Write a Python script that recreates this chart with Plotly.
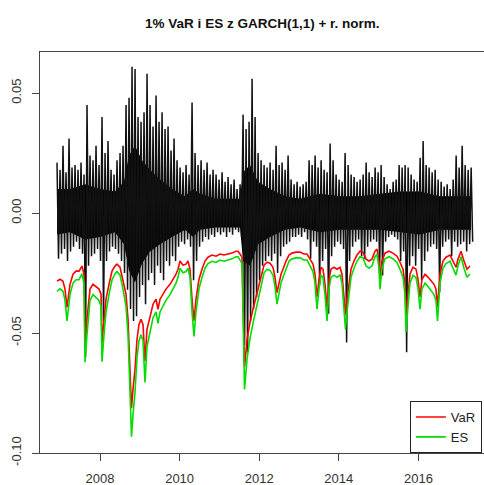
import numpy as np
import plotly.graph_objects as go

# ---------------- data ----------------
# daily returns summarised per column: max and min within each ~4-week slot
ret_start = 2006.92
ret_step = 0.0754
ret_hi = [0.021, 0.018, 0.028, 0.017, 0.031, 0.019, 0.020, 0.018, 0.021, 0.016,
          0.045, 0.024, 0.022, 0.028, 0.020, 0.040, 0.025, 0.030, 0.018, 0.016,
          0.022, 0.025, 0.028, 0.045, 0.048, 0.061, 0.060, 0.040, 0.038, 0.042,
          0.058, 0.045, 0.036, 0.049, 0.038, 0.042, 0.035, 0.036, 0.026, 0.031,
          0.022, 0.019, 0.017, 0.020, 0.016, 0.046, 0.025, 0.020, 0.022, 0.018,
          0.021, 0.016, 0.018, 0.016, 0.014, 0.017, 0.013, 0.015, 0.012, 0.014,
          0.010, 0.012, 0.041, 0.035, 0.038, 0.056, 0.040, 0.025, 0.022, 0.020,
          0.019, 0.021, 0.018, 0.028, 0.020, 0.021, 0.018, 0.024, 0.014, 0.012,
          0.013, 0.011, 0.012, 0.013, 0.022, 0.020, 0.024, 0.019, 0.022, 0.018,
          0.017, 0.029, 0.022, 0.016, 0.014, 0.013, 0.025, 0.020, 0.016, 0.015,
          0.013, 0.014, 0.016, 0.021, 0.017, 0.015, 0.019, 0.017, 0.020, 0.015,
          0.012, 0.010, 0.013, 0.014, 0.020, 0.019, 0.020, 0.019, 0.016, 0.014,
          0.013, 0.023, 0.030, 0.020, 0.019, 0.017, 0.018, 0.014, 0.013, 0.011,
          0.012, 0.010, 0.014, 0.024, 0.019, 0.028, 0.020, 0.018, 0.019]
ret_lo = [-0.019, -0.017, -0.015, -0.020, -0.016, -0.014, -0.012, -0.015, -0.017, -0.060,
          -0.022, -0.018, -0.017, -0.015, -0.020, -0.045, -0.020, -0.016, -0.014, -0.015,
          -0.017, -0.020, -0.025, -0.032, -0.040, -0.045, -0.043, -0.035, -0.030, -0.038,
          -0.028, -0.025, -0.030, -0.022, -0.025, -0.028, -0.020, -0.022, -0.018, -0.020,
          -0.014, -0.012, -0.013, -0.011, -0.014, -0.028, -0.020, -0.014, -0.012, -0.010,
          -0.011, -0.009, -0.010, -0.008, -0.009, -0.008, -0.010, -0.008, -0.009, -0.007,
          -0.008, -0.010, -0.055, -0.058, -0.045, -0.040, -0.035, -0.028, -0.022, -0.020,
          -0.018, -0.020, -0.017, -0.025, -0.018, -0.014, -0.013, -0.012, -0.010, -0.010,
          -0.009, -0.010, -0.008, -0.011, -0.019, -0.012, -0.014, -0.030, -0.020, -0.015,
          -0.042, -0.018, -0.014, -0.012, -0.013, -0.015, -0.054, -0.020, -0.014, -0.012,
          -0.011, -0.018, -0.019, -0.014, -0.012, -0.011, -0.012, -0.024, -0.026, -0.012,
          -0.010, -0.009, -0.010, -0.011, -0.020, -0.016, -0.058, -0.022, -0.018, -0.022,
          -0.015, -0.028, -0.020, -0.016, -0.014, -0.013, -0.015, -0.033, -0.014, -0.012,
          -0.011, -0.018, -0.012, -0.014, -0.013, -0.012, -0.016, -0.013, -0.012]

# dense (solid black) part of the return band
core_t = [2006.920, 2007.246, 2007.623, 2008.000, 2008.377, 2008.603, 2008.729, 2008.879,
          2009.055, 2009.256, 2009.508, 2009.809, 2010.136, 2010.337, 2010.513, 2010.889,
          2011.518, 2011.593, 2011.769, 2011.970, 2012.271, 2012.648, 2013.025, 2013.528,
          2014.030, 2014.533, 2015.035, 2015.538, 2016.040, 2016.543, 2017.045, 2017.322]
core_hi = [0.010, 0.010, 0.012, 0.010, 0.009, 0.013, 0.024, 0.028,
           0.022, 0.018, 0.014, 0.010, 0.007, 0.010, 0.008, 0.006,
           0.006, 0.017, 0.020, 0.013, 0.010, 0.007, 0.006, 0.008,
           0.007, 0.007, 0.008, 0.009, 0.009, 0.007, 0.007, 0.007]
core_lo = [-0.009, -0.008, -0.011, -0.010, -0.008, -0.013, -0.024, -0.029,
           -0.021, -0.016, -0.013, -0.010, -0.007, -0.010, -0.007, -0.006,
           -0.006, -0.020, -0.022, -0.013, -0.010, -0.007, -0.006, -0.008,
           -0.007, -0.007, -0.007, -0.008, -0.009, -0.007, -0.007, -0.007]

# 1% VaR and ES (GARCH(1,1), normal errors)
risk_t = [2006.920, 2006.995, 2007.070, 2007.121, 2007.171, 2007.246, 2007.322, 2007.397,
          2007.472, 2007.548, 2007.598, 2007.623, 2007.673, 2007.749, 2007.824, 2007.899,
          2007.975, 2008.025, 2008.050, 2008.101, 2008.151, 2008.226, 2008.302, 2008.377,
          2008.427, 2008.503, 2008.578, 2008.653, 2008.704, 2008.754, 2008.791, 2008.829,
          2008.879, 2008.930, 2008.980, 2009.030, 2009.080, 2009.131, 2009.181, 2009.256,
          2009.332, 2009.407, 2009.457, 2009.508, 2009.583, 2009.658, 2009.759, 2009.834,
          2009.910, 2009.960, 2010.010, 2010.085, 2010.161, 2010.211, 2010.261, 2010.312,
          2010.362, 2010.412, 2010.487, 2010.563, 2010.638, 2010.714, 2010.814, 2010.915,
          2011.015, 2011.116, 2011.216, 2011.317, 2011.417, 2011.467, 2011.518, 2011.568,
          2011.593, 2011.631, 2011.693, 2011.769, 2011.844, 2011.920, 2011.995, 2012.070,
          2012.121, 2012.196, 2012.271, 2012.347, 2012.397, 2012.447, 2012.497, 2012.548,
          2012.598, 2012.673, 2012.749, 2012.824, 2012.925, 2013.025, 2013.126, 2013.201,
          2013.276, 2013.352, 2013.402, 2013.452, 2013.503, 2013.553, 2013.603, 2013.653,
          2013.704, 2013.754, 2013.804, 2013.879, 2013.955, 2014.030, 2014.080, 2014.131,
          2014.168, 2014.206, 2014.256, 2014.307, 2014.382, 2014.457, 2014.533, 2014.608,
          2014.683, 2014.759, 2014.834, 2014.910, 2014.960, 2015.010, 2015.035, 2015.085,
          2015.161, 2015.261, 2015.362, 2015.462, 2015.538, 2015.613, 2015.663, 2015.688,
          2015.739, 2015.789, 2015.864, 2015.940, 2015.990, 2016.040, 2016.090, 2016.166,
          2016.241, 2016.317, 2016.392, 2016.442, 2016.480, 2016.543, 2016.618, 2016.693,
          2016.794, 2016.869, 2016.945, 2016.995, 2017.070, 2017.146, 2017.221, 2017.296]
var_v = [-0.0284, -0.0276, -0.0284, -0.0317, -0.0393, -0.0297, -0.0255, -0.0242,
         -0.0242, -0.0221, -0.0255, -0.0543, -0.0443, -0.0317, -0.0297, -0.0309,
         -0.0317, -0.0338, -0.0541, -0.0443, -0.0359, -0.0297, -0.0242, -0.0221,
         -0.0213, -0.0226, -0.0276, -0.0338, -0.0443, -0.0652, -0.0813, -0.0735,
         -0.0652, -0.0526, -0.0464, -0.0443, -0.0464, -0.0616, -0.0485, -0.0434,
         -0.0380, -0.0359, -0.0401, -0.0359, -0.0338, -0.0317, -0.0297, -0.0276,
         -0.0255, -0.0234, -0.0200, -0.0217, -0.0213, -0.0200, -0.0234, -0.0359,
         -0.0449, -0.0359, -0.0276, -0.0234, -0.0200, -0.0184, -0.0175, -0.0180,
         -0.0171, -0.0175, -0.0171, -0.0167, -0.0159, -0.0159, -0.0171, -0.0184,
         -0.0359, -0.0641, -0.0530, -0.0455, -0.0401, -0.0351, -0.0297, -0.0242,
         -0.0217, -0.0205, -0.0209, -0.0226, -0.0267, -0.0332, -0.0288, -0.0255,
         -0.0234, -0.0200, -0.0175, -0.0167, -0.0163, -0.0163, -0.0171, -0.0171,
         -0.0192, -0.0213, -0.0255, -0.0350, -0.0276, -0.0226, -0.0234, -0.0297,
         -0.0393, -0.0276, -0.0234, -0.0226, -0.0234, -0.0226, -0.0255, -0.0338,
         -0.0423, -0.0359, -0.0297, -0.0234, -0.0200, -0.0175, -0.0159, -0.0163,
         -0.0192, -0.0200, -0.0192, -0.0159, -0.0150, -0.0200, -0.0277, -0.0200,
         -0.0167, -0.0159, -0.0167, -0.0180, -0.0205, -0.0234, -0.0297, -0.0434,
         -0.0338, -0.0255, -0.0226, -0.0234, -0.0276, -0.0350, -0.0276, -0.0255,
         -0.0267, -0.0284, -0.0297, -0.0317, -0.0393, -0.0255, -0.0200, -0.0184,
         -0.0175, -0.0200, -0.0226, -0.0192, -0.0159, -0.0200, -0.0234, -0.0221]
es_v = [-0.0326, -0.0316, -0.0326, -0.0364, -0.0450, -0.0340, -0.0292, -0.0278,
        -0.0278, -0.0254, -0.0292, -0.0622, -0.0507, -0.0364, -0.0340, -0.0354,
        -0.0364, -0.0388, -0.0620, -0.0507, -0.0412, -0.0340, -0.0278, -0.0254,
        -0.0244, -0.0259, -0.0316, -0.0388, -0.0507, -0.0747, -0.0932, -0.0842,
        -0.0747, -0.0603, -0.0532, -0.0507, -0.0532, -0.0706, -0.0555, -0.0498,
        -0.0436, -0.0412, -0.0460, -0.0412, -0.0388, -0.0364, -0.0340, -0.0316,
        -0.0292, -0.0268, -0.0230, -0.0249, -0.0244, -0.0230, -0.0268, -0.0412,
        -0.0514, -0.0412, -0.0316, -0.0268, -0.0230, -0.0211, -0.0201, -0.0206,
        -0.0196, -0.0201, -0.0196, -0.0191, -0.0182, -0.0182, -0.0196, -0.0211,
        -0.0412, -0.0735, -0.0610, -0.0522, -0.0460, -0.0402, -0.0340, -0.0278,
        -0.0249, -0.0235, -0.0239, -0.0259, -0.0306, -0.0380, -0.0330, -0.0292,
        -0.0268, -0.0230, -0.0201, -0.0191, -0.0187, -0.0187, -0.0196, -0.0196,
        -0.0220, -0.0244, -0.0292, -0.0401, -0.0316, -0.0259, -0.0268, -0.0340,
        -0.0450, -0.0316, -0.0268, -0.0259, -0.0268, -0.0259, -0.0292, -0.0388,
        -0.0485, -0.0412, -0.0340, -0.0268, -0.0230, -0.0201, -0.0182, -0.0187,
        -0.0220, -0.0230, -0.0220, -0.0182, -0.0172, -0.0230, -0.0317, -0.0230,
        -0.0191, -0.0182, -0.0191, -0.0206, -0.0235, -0.0268, -0.0340, -0.0497,
        -0.0388, -0.0292, -0.0259, -0.0268, -0.0316, -0.0401, -0.0316, -0.0292,
        -0.0306, -0.0326, -0.0340, -0.0364, -0.0450, -0.0292, -0.0230, -0.0211,
        -0.0201, -0.0230, -0.0259, -0.0220, -0.0182, -0.0230, -0.0268, -0.0254]

x_ticks = [2008, 2010, 2012, 2014, 2016]
y_ticks = [-0.10, -0.05, 0.00, 0.05]
y_ticktext = ["-0.10", "-0.05", "0.00", "0.05"]
title_text = "1% VaR i ES z GARCH(1,1) + r. norm."

# ---------------- build the return trace (max / min per slot) ----------------
ret_t = ret_start + ret_step * np.arange(len(ret_hi))
rx = np.empty(2 * len(ret_hi))
ry = np.empty(2 * len(ret_hi))
rx[0::2] = ret_t
rx[1::2] = ret_t + ret_step / 2
ry[0::2] = ret_hi
ry[1::2] = ret_lo

FONT = "Liberation Sans, Arial, Helvetica, sans-serif"

fig = go.Figure()
fig.add_trace(go.Scatter(x=core_t + core_t[::-1], y=core_hi + core_lo[::-1],
                         mode="lines", fill="toself", fillcolor="black",
                         line=dict(color="black", width=0),
                         showlegend=False, hoverinfo="skip"))
fig.add_trace(go.Scatter(x=rx, y=ry, mode="lines", line=dict(color="#111", width=1.5),
                         showlegend=False, hoverinfo="skip"))
fig.add_trace(go.Scatter(x=risk_t, y=var_v, mode="lines", name="VaR",
                         line=dict(color="#FF0000", width=1.6)))
fig.add_trace(go.Scatter(x=risk_t, y=es_v, mode="lines", name="ES",
                         line=dict(color="#00DD00", width=1.6)))

fig.update_layout(
    width=484, height=485,
    margin=dict(l=40, r=0, t=52, b=32),
    paper_bgcolor="white", plot_bgcolor="white",
    font=dict(family=FONT, size=13, color="#222"),
    title=dict(text="<b>" + title_text + "</b>", x=0.542, xanchor="center",
               y=1 - 23 / 485, yanchor="middle", font=dict(size=13.5, color="#111")),
    showlegend=True,
    legend=dict(x=0.833, y=0, xanchor="left", yanchor="bottom",
                bordercolor="#222", borderwidth=1, bgcolor="white",
                font=dict(size=13, color="#222"), tracegroupgap=0,
                itemwidth=30),
)
fig.update_xaxes(range=[2006.4925, 2017.648], showgrid=False, zeroline=False,
                 showline=True, linecolor="#444", linewidth=1, mirror=True,
                 ticks="outside", ticklen=7, tickcolor="#444",
                 tickvals=x_ticks, ticktext=[str(v) for v in x_ticks],
                 ticklabelstandoff=6, tickfont=dict(size=13, color="#333"))
fig.update_yaxes(range=[-0.10, 0.0671], showgrid=False, zeroline=False,
                 showline=True, linecolor="#444", linewidth=1, mirror=False,
                 ticks="outside", ticklen=7, tickcolor="#444",
                 tickvals=y_ticks, ticktext=y_ticktext, tickangle=-90,
                 ticklabelstandoff=6, tickfont=dict(size=13, color="#333"))

fig.write_html("out.html")
